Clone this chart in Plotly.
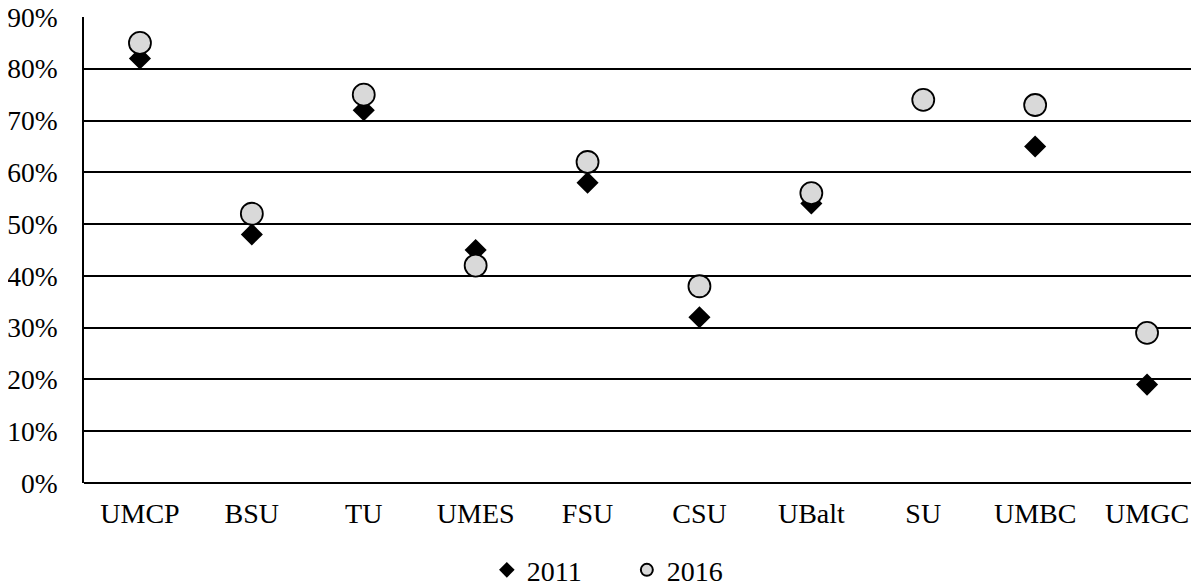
import plotly.graph_objects as go

categories = ["UMCP", "BSU", "TU", "UMES", "FSU", "CSU", "UBalt", "SU", "UMBC", "UMGC"]
values_2011 = [0.82, 0.48, 0.72, 0.45, 0.58, 0.32, 0.54, None, 0.65, 0.19]
values_2016 = [0.85, 0.52, 0.75, 0.42, 0.62, 0.38, 0.56, 0.74, 0.73, 0.29]
y_ticks = [0, 0.1, 0.2, 0.3, 0.4, 0.5, 0.6, 0.7, 0.8, 0.9]

font = dict(family="Liberation Serif, Times New Roman, serif", size=28, color="black")
yfont = dict(family="Liberation Serif, Times New Roman, serif", size=27.5, color="black")

fig = go.Figure()
fig.add_trace(go.Scatter(
    x=categories, y=values_2011, mode="markers", name="2011",
    marker=dict(symbol="diamond", size=17, color="black", line=dict(width=0)),
))
fig.add_trace(go.Scatter(
    x=categories, y=values_2016, mode="markers", name="2016",
    marker=dict(symbol="circle", size=22, color="#d9d9d9", line=dict(color="black", width=1.8)),
))

fig.update_layout(
    width=1199, height=588,
    margin=dict(l=76, r=4, t=9, b=113, autoexpand=False),
    paper_bgcolor="white", plot_bgcolor="white",
    font=font,
    showlegend=True,
    legend=dict(orientation="h", x=0.36, xanchor="left", y=-0.187, yanchor="middle",
                font=font, itemsizing="constant", itemwidth=30, tracegroupgap=0,
                entrywidth=95, entrywidthmode="pixels"),
)
fig.update_xaxes(
    type="category", range=[-0.5, len(categories) - 0.5],
    showgrid=False, showline=False, ticks="",
    tickfont=font, ticklabelstandoff=11, zeroline=False, automargin=False,
)
fig.update_yaxes(
    range=[0, 0.9], tickvals=y_ticks, tickformat=".0%",
    showgrid=True, gridcolor="black", gridwidth=1.8,
    showline=True, linecolor="black", linewidth=1.8,
    zeroline=True, zerolinecolor="black", zerolinewidth=1.8,
    ticks="", tickfont=yfont, ticklabelstandoff=19, automargin=False,
    ticklabeloverflow="allow",
)
fig.write_html("out.html")
